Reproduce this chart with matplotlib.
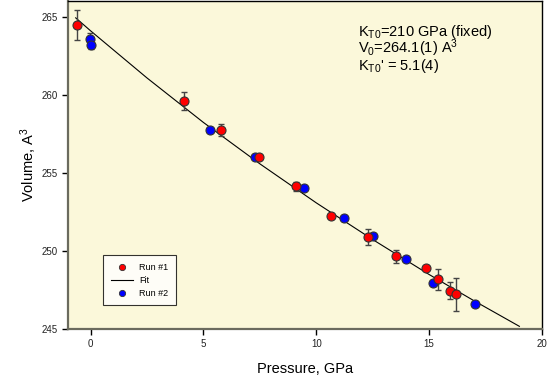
import numpy as np
import matplotlib
matplotlib.use('Agg')
import matplotlib.pyplot as plt

plt.rcParams['font.family'] = ['Liberation Sans', 'DejaVu Sans']
plt.rcParams['mathtext.fontset'] = 'custom'
plt.rcParams['mathtext.rm'] = 'Liberation Sans'
plt.rcParams['mathtext.it'] = 'Liberation Sans:italic'

# Run #1 (red)
p1 = [-0.59, 4.13, 5.80, 7.45, 9.12, 10.66, 12.29, 13.54, 14.85, 15.38, 15.93, 16.21]
v1 = [264.47, 259.59, 257.74, 256.00, 254.13, 252.26, 250.89, 249.65, 248.91, 248.17, 247.45, 247.23]
e1 = [0.95, 0.56, 0.40, 0.0, 0.30, 0.0, 0.54, 0.42, 0.0, 0.66, 0.55, 1.06]

# Run #2 (blue)
p2 = [-0.03, 0.0, 5.28, 7.27, 9.44, 11.21, 12.52, 13.97, 15.16, 17.05]
v2 = [263.58, 263.22, 257.74, 256.00, 254.04, 252.13, 250.95, 249.46, 247.96, 246.62]
e2 = [0.35, 0.30, 0.0, 0.0, 0.0, 0.0, 0.0, 0.0, 0.0, 0.0]

# EOS fit curve
p_fit = [-0.66, 0, 2.5, 5, 7.5, 10, 12.5, 15, 17, 19]
v_fit = [264.93, 264.1, 261.08, 258.23, 255.58, 253.08, 250.73, 248.49, 246.80, 245.17]

fig = plt.figure(figsize=(5.53, 3.85), dpi=100)
ax = fig.add_axes([0.123, 0.1455, 0.857, 0.8515])
ax.set_facecolor('#FBF8DA')

ax.plot(p_fit, v_fit, color='black', lw=0.8, label='Fit', zorder=2)
ax.errorbar(p2, v2, yerr=e2, fmt='none', ecolor='#444444', elinewidth=1, capsize=2.5, zorder=3)
ax.errorbar(p1, v1, yerr=e1, fmt='none', ecolor='#444444', elinewidth=1, capsize=2.5, zorder=3)
ax.plot(p2, v2, 'o', color='#0000FF', mec='#333333', mew=0.8, ms=6.5, ls='none', zorder=4)
ax.plot(p1, v1, 'o', color='#FF0000', mec='#333333', mew=0.8, ms=6.5, ls='none', zorder=5)

# legend handles
h1, = ax.plot([], [], 'o', color='#FF0000', mec='#333333', mew=0.6, ms=4.5, ls='none', label='Run #1')
hf, = ax.plot([], [], color='black', lw=0.8, label='Fit')
h2, = ax.plot([], [], 'o', color='#0000FF', mec='#333333', mew=0.6, ms=4.5, ls='none', label='Run #2')
leg = ax.legend(handles=[h1, hf, h2], loc='upper left', bbox_to_anchor=(0.074, 0.2256),
                borderaxespad=0, fontsize=6.5, frameon=True, fancybox=False, edgecolor='black',
                handlelength=2.5, borderpad=0.85, labelspacing=0.45, handletextpad=0.65)
leg.get_frame().set_linewidth(0.8)

ax.set_xlim(-1, 20)
ax.set_ylim(245, 266)
ax.set_xticks([0, 5, 10, 15, 20])
ax.set_yticks([245, 250, 255, 260, 265])
ax.tick_params(direction='out', length=4, width=1, labelsize=7, colors='black', labelcolor='#222222')

for s in ['left', 'bottom']:
    ax.spines[s].set_color('#6b6b5e')
    ax.spines[s].set_linewidth(1.6)
for s in ['top', 'right']:
    ax.spines[s].set_color('black')
    ax.spines[s].set_linewidth(1.0)

ax.set_xlabel('Pressure, GPa', fontsize=10.5, labelpad=9)
ax.set_ylabel(r'Volume, A$^3$', fontsize=10.5, labelpad=2)

tx = 0.612
ax.text(tx, 0.893, r'K$_{\rm T0}$=210 GPa (fixed)', transform=ax.transAxes, fontsize=10.5, va='baseline')
ax.text(tx, 0.841, r'V$_0$=264.1(1) A$^3$', transform=ax.transAxes, fontsize=10.5, va='baseline')
ax.text(tx, 0.790, r"K$_{\rm T0}$' = 5.1(4)", transform=ax.transAxes, fontsize=10.5, va='baseline')

fig.savefig('out.png', dpi=100)
